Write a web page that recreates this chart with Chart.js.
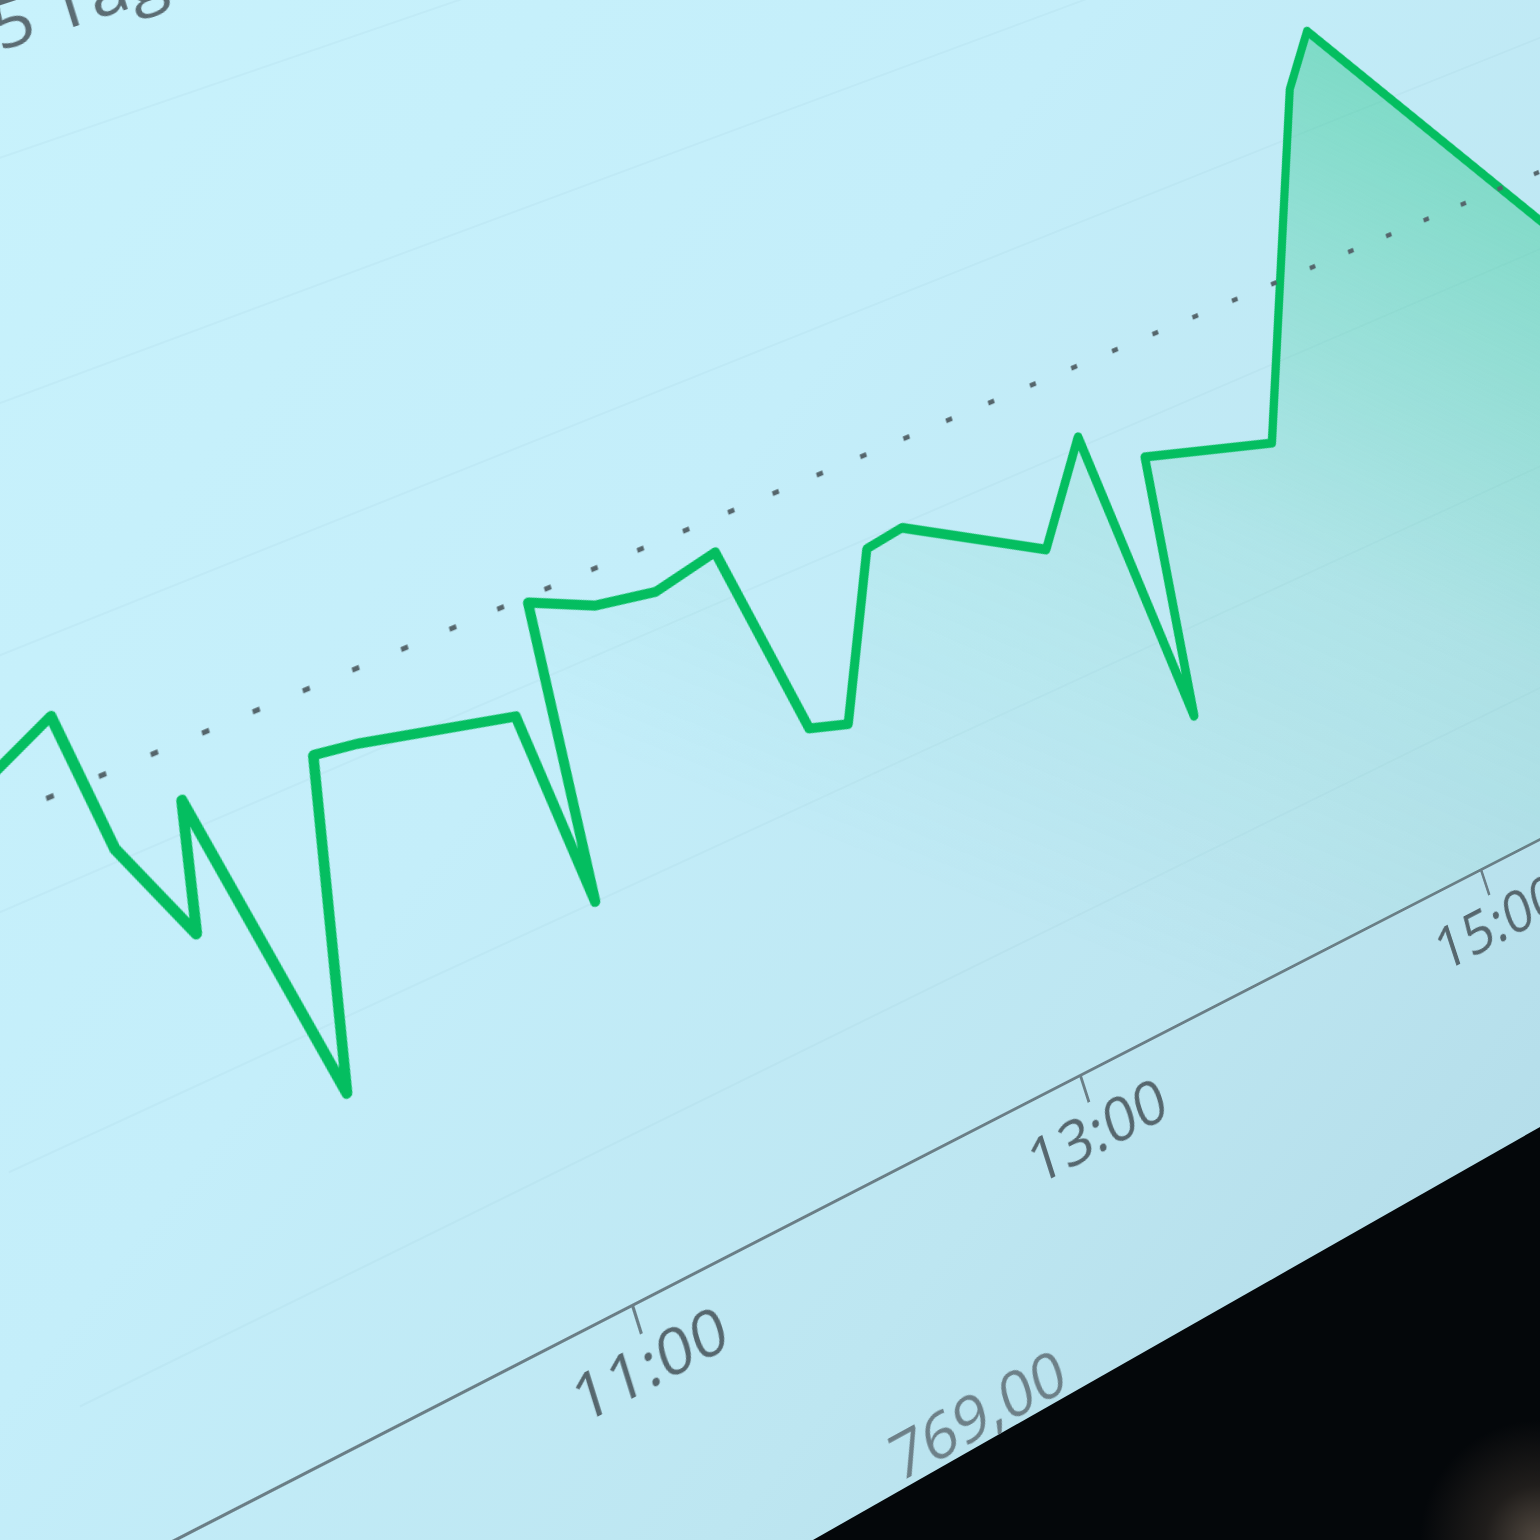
<!DOCTYPE html>
<html>
<head>
<meta charset="utf-8">
<script src="https://cdn.jsdelivr.net/npm/chart.js@4/dist/chart.umd.min.js"></script>
<style>
html,body{margin:0;padding:0;width:1540px;height:1540px;overflow:hidden;background:#04070a;}
#bezel{position:absolute;left:0;top:0;width:1540px;height:1540px;
  background:radial-gradient(circle at 100% 100%, rgba(92,82,72,0.9) 0px, rgba(55,48,42,0.55) 55px, rgba(5,8,11,0) 120px), #04070a;}
#screen{position:absolute;left:0;top:0;width:1540px;height:1540px;overflow:hidden;
  clip-path:polygon(0 0,1540px 0,1540px 1127px,813px 1540px,0 1540px);
  background:linear-gradient(128deg,#c8f2fc 0%,#c4eefa 40%,#bde6f1 70%,#b0d9e6 100%);}
#plane{position:absolute;left:0;top:0;transform-origin:0 0;filter:blur(0.6px);}
#c{display:block;}
</style>
</head>
<body>
<div id="bezel"></div>
<div id="screen"><div id="plane"><canvas id="c" width="2240" height="1880" style="width:2240px;height:1880px"></canvas></div></div>
<script>
// ---- data (times in decimal hours, prices in EUR) ----
const times  = [9.00, 9.60, 9.68, 9.87, 9.96, 10.22, 10.47, 10.64, 11.25, 11.33, 11.43, 11.68, 11.93, 12.21, 12.36, 12.52, 12.82, 12.99, 13.56, 13.85, 13.96, 14.11, 14.69, 15.30, 15.47, 16.50];
const prices = [770.73, 771.36, 770.11, 769.17, 770.27, 767.40, 770.18, 770.12, 769.79, 768.00, 770.68, 770.42, 770.32, 770.44, 768.62, 768.51, 769.92, 769.97, 769.24, 770.10, 767.22, 769.67, 769.30, 772.45, 772.93, 769.55];
const prevClose = 770.73;
const refTimes = [9.5, 17.5];
const tickHours = [9, 11, 13, 15, 17];
const gridPrices = [766, 768, 770, 772, 774, 776];
const yMin = 764.67, yMax = 776;
const xMin = 9, xMax = 17.5;
const tabLabel = "5 Tage";
const quoteLabel = "769,00";
const tabAt = {t: 10.13, p: 776.88};
const quoteAt = {t: 11.78, p: 762.18};

// photo calibration: where (11:00 / 13:00) x (axis / previous close) appear on screen
const anchors = [
  {t: 11, p: yMin, X: 632, Y: 1305},
  {t: 13, p: yMin, X: 1080, Y: 1075},
  {t: 11, p: prevClose, X: 424, Y: 640},
  {t: 13, p: prevClose, X: 879, Y: 449}
];

const lineData = times.map((t, i) => ({x: t, y: prices[i]}));
const refData = refTimes.map(t => ({x: t, y: prevClose}));

function fillGradient(ctx) {
  const chart = ctx.chart;
  const sx = chart.scales.x, sy = chart.scales.y;
  if (!sx || !sy || !chart.chartArea) return 'rgba(45,200,140,0.1)';
  const g = chart.ctx.createLinearGradient(
    sx.getPixelForValue(12.8), sy.getPixelForValue(766.5),
    sx.getPixelForValue(15.6), sy.getPixelForValue(772.8));
  g.addColorStop(0, 'rgba(45,200,140,0.0)');
  g.addColorStop(0.45, 'rgba(45,200,140,0.10)');
  g.addColorStop(1, 'rgba(40,198,138,0.45)');
  return g;
}

const textPlugin = {
  id: 'extraText',
  afterDraw(chart) {
    const c = chart.ctx, sx = chart.scales.x, sy = chart.scales.y;
    c.save();
    c.textAlign = 'left';
    c.textBaseline = 'alphabetic';
    c.fillStyle = '#5b6c73';
    c.font = '400 68px "Open Sans", "DejaVu Sans", sans-serif';
    c.fillText(tabLabel, sx.getPixelForValue(tabAt.t), sy.getPixelForValue(tabAt.p));
    c.fillStyle = '#6d8088';
    c.font = '400 62px "Open Sans", "DejaVu Sans", sans-serif';
    c.fillText(quoteLabel, sx.getPixelForValue(quoteAt.t), sy.getPixelForValue(quoteAt.p));
    c.restore();
  }
};

const chart = new Chart(document.getElementById('c'), {
  type: 'line',
  data: {
    datasets: [
      {
        data: refData,
        borderColor: '#55656b',
        borderWidth: 5,
        borderDash: [7, 43],
        borderCapStyle: 'butt',
        pointRadius: 0,
        fill: false,
        tension: 0
      },
      {
        data: lineData,
        borderColor: 'rgb(4,190,96)',
        borderWidth: 10,
        borderJoinStyle: 'round',
        pointRadius: 0,
        tension: 0,
        fill: 'start',
        backgroundColor: fillGradient
      }
    ]
  },
  options: {
    responsive: false,
    animation: false,
    devicePixelRatio: 1,
    layout: {padding: {top: 230, bottom: 250, left: 30, right: 40}},
    plugins: {legend: {display: false}, tooltip: {enabled: false}, title: {display: false}},
    scales: {
      x: {
        type: 'linear', min: xMin, max: xMax,
        afterBuildTicks: ax => { ax.ticks = tickHours.map(v => ({value: v})); },
        ticks: {
          autoSkip: false, maxRotation: 0, padding: 4,
          color: '#56676e',
          font: {family: '"Open Sans", "DejaVu Sans", sans-serif', size: 62, lineHeight: 1.0},
          callback: v => String(Math.floor(v)).padStart(2, '0') + ':00'
        },
        grid: {drawOnChartArea: false, drawTicks: true, tickLength: 30, tickWidth: 3, tickColor: '#6a7e86'},
        border: {display: true, color: '#6a7e86', width: 3}
      },
      y: {
        type: 'linear', min: yMin, max: yMax,
        afterBuildTicks: ax => { ax.ticks = gridPrices.map(v => ({value: v})); },
        ticks: {display: false},
        grid: {color: 'rgba(105,150,162,0.06)', lineWidth: 2, drawTicks: false},
        border: {display: false}
      }
    }
  },
  plugins: [textPlugin]
});

// ---- perspective: map flat chart onto the photographed screen ----
function solve(A, b) {
  const n = b.length;
  for (let i = 0; i < n; i++) {
    let m = i;
    for (let r = i + 1; r < n; r++) if (Math.abs(A[r][i]) > Math.abs(A[m][i])) m = r;
    [A[i], A[m]] = [A[m], A[i]]; [b[i], b[m]] = [b[m], b[i]];
    for (let r = i + 1; r < n; r++) {
      const f = A[r][i] / A[i][i];
      for (let k = i; k < n; k++) A[r][k] -= f * A[i][k];
      b[r] -= f * b[i];
    }
  }
  const x = new Array(n).fill(0);
  for (let i = n - 1; i >= 0; i--) {
    let s = b[i];
    for (let k = i + 1; k < n; k++) s -= A[i][k] * x[k];
    x[i] = s / A[i][i];
  }
  return x;
}
function applyPerspective() {
  const sx = chart.scales.x, sy = chart.scales.y;
  const A = [], b = [];
  anchors.forEach(a => {
    const x = sx.getPixelForValue(a.t), y = sy.getPixelForValue(a.p);
    A.push([x, y, 1, 0, 0, 0, -x * a.X, -y * a.X]); b.push(a.X);
    A.push([0, 0, 0, x, y, 1, -x * a.Y, -y * a.Y]); b.push(a.Y);
  });
  const h = solve(A, b);
  document.getElementById('plane').style.transform =
    `matrix3d(${h[0]},${h[3]},0,${h[6]},${h[1]},${h[4]},0,${h[7]},0,0,1,0,${h[2]},${h[5]},0,1)`;
}
applyPerspective();
</script>
</body>
</html>
